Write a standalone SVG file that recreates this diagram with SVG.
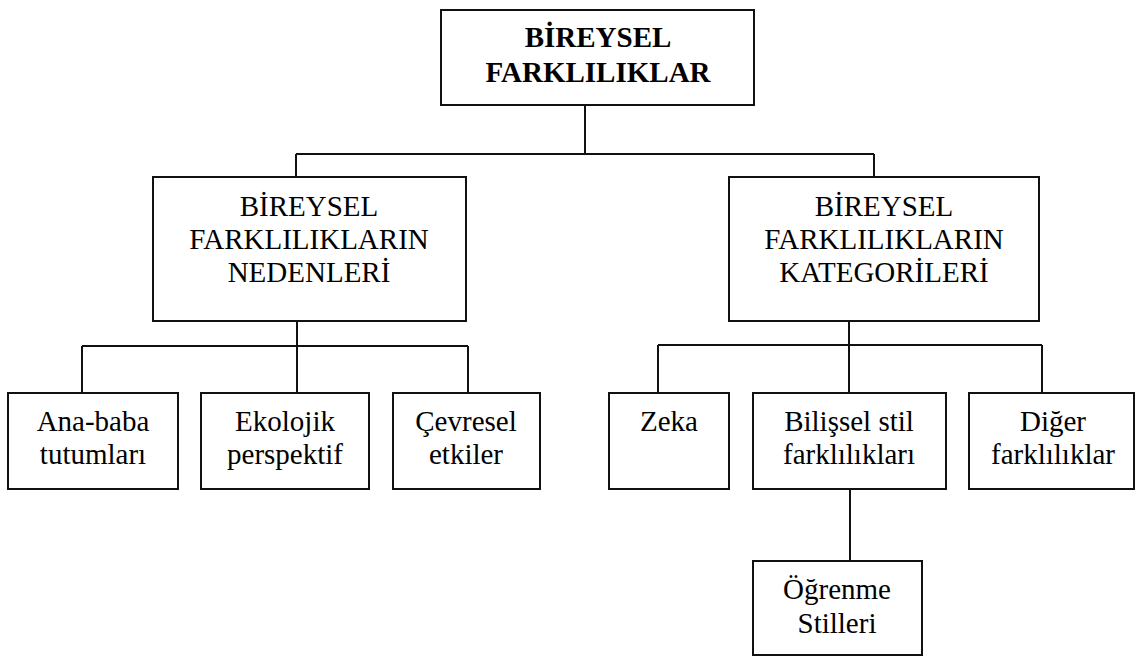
<svg xmlns="http://www.w3.org/2000/svg" width="1136" height="657" viewBox="0 0 1136 657">
<rect width="1136" height="657" fill="#fff"/>
<g id="connectors" fill="none" stroke="#111" stroke-width="2">
<path d="M585 105V154M296 154H874M296 154V177M874 154V177"/>
<path d="M297 321V346M82 346H468M82 346V393M297 346V393M468 346V393"/>
<path d="M849 321V345M658 345H1042M658 345V393M849 345V393M1042 345V393"/>
<path d="M850 489V561"/>
</g>
<g id="root">
<rect x="441" y="10" width="313" height="95" fill="#fff" stroke="#111" stroke-width="2"/>
<text x="598" y="47" font-family="Times New Roman, Liberation Serif, serif" font-size="29" font-weight="bold" text-anchor="middle">BİREYSEL</text>
<text x="598" y="82" font-family="Times New Roman, Liberation Serif, serif" font-size="29" font-weight="bold" text-anchor="middle">FARKLILIKLAR</text>
</g>
<g id="nedenler">
<rect x="153" y="177" width="313" height="144" fill="#fff" stroke="#111" stroke-width="2"/>
<text x="309" y="216" font-family="Times New Roman, Liberation Serif, serif" font-size="29" text-anchor="middle">BİREYSEL</text>
<text x="309" y="249" font-family="Times New Roman, Liberation Serif, serif" font-size="29" text-anchor="middle">FARKLILIKLARIN</text>
<text x="309" y="282" font-family="Times New Roman, Liberation Serif, serif" font-size="29" text-anchor="middle">NEDENLERİ</text>
</g>
<g id="kategoriler">
<rect x="729" y="177" width="310" height="144" fill="#fff" stroke="#111" stroke-width="2"/>
<text x="884" y="216" font-family="Times New Roman, Liberation Serif, serif" font-size="29" text-anchor="middle">BİREYSEL</text>
<text x="884" y="249" font-family="Times New Roman, Liberation Serif, serif" font-size="29" text-anchor="middle">FARKLILIKLARIN</text>
<text x="884" y="282" font-family="Times New Roman, Liberation Serif, serif" font-size="29" text-anchor="middle">KATEGORİLERİ</text>
</g>
<g id="anababa">
<rect x="8" y="393" width="170" height="96" fill="#fff" stroke="#111" stroke-width="2"/>
<text x="93" y="431" font-family="Times New Roman, Liberation Serif, serif" font-size="29" text-anchor="middle">Ana-baba</text>
<text x="93" y="464" font-family="Times New Roman, Liberation Serif, serif" font-size="29" text-anchor="middle">tutumları</text>
</g>
<g id="ekolojik">
<rect x="201" y="393" width="168" height="96" fill="#fff" stroke="#111" stroke-width="2"/>
<text x="285" y="431" font-family="Times New Roman, Liberation Serif, serif" font-size="29" text-anchor="middle">Ekolojik</text>
<text x="285" y="464" font-family="Times New Roman, Liberation Serif, serif" font-size="29" text-anchor="middle">perspektif</text>
</g>
<g id="cevresel">
<rect x="393" y="393" width="147" height="96" fill="#fff" stroke="#111" stroke-width="2"/>
<text x="466" y="431" font-family="Times New Roman, Liberation Serif, serif" font-size="29" text-anchor="middle">Çevresel</text>
<text x="466" y="464" font-family="Times New Roman, Liberation Serif, serif" font-size="29" text-anchor="middle">etkiler</text>
</g>
<g id="zeka">
<rect x="609" y="393" width="120" height="96" fill="#fff" stroke="#111" stroke-width="2"/>
<text x="669" y="431" font-family="Times New Roman, Liberation Serif, serif" font-size="29" text-anchor="middle">Zeka</text>
</g>
<g id="bilissel">
<rect x="753" y="393" width="193" height="96" fill="#fff" stroke="#111" stroke-width="2"/>
<text x="849" y="431" font-family="Times New Roman, Liberation Serif, serif" font-size="29" text-anchor="middle">Bilişsel stil</text>
<text x="849" y="464" font-family="Times New Roman, Liberation Serif, serif" font-size="29" text-anchor="middle">farklılıkları</text>
</g>
<g id="diger">
<rect x="969" y="393" width="165" height="96" fill="#fff" stroke="#111" stroke-width="2"/>
<text x="1053" y="431" font-family="Times New Roman, Liberation Serif, serif" font-size="29" text-anchor="middle">Diğer</text>
<text x="1053" y="464" font-family="Times New Roman, Liberation Serif, serif" font-size="29" text-anchor="middle">farklılıklar</text>
</g>
<g id="ogrenme">
<rect x="753" y="561" width="169" height="94" fill="#fff" stroke="#111" stroke-width="2"/>
<text x="837" y="599" font-family="Times New Roman, Liberation Serif, serif" font-size="29" text-anchor="middle">Öğrenme</text>
<text x="837" y="633" font-family="Times New Roman, Liberation Serif, serif" font-size="29" text-anchor="middle">Stilleri</text>
</g>
</svg>
